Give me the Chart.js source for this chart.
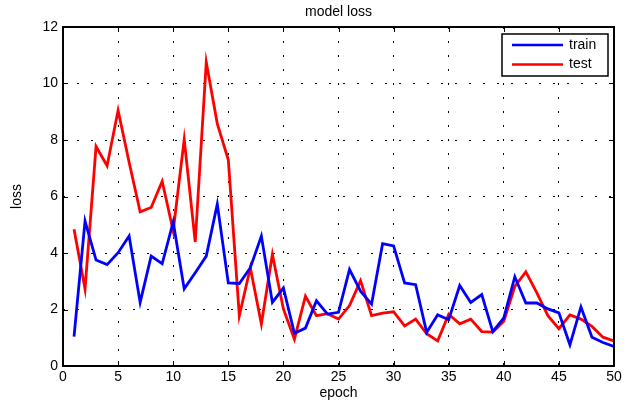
<!DOCTYPE html>
<html>
<head>
<meta charset="utf-8">
<title>model loss</title>
<script src="https://cdn.jsdelivr.net/npm/chart.js@4.4.0/dist/chart.umd.min.js"></script>
<style>
  html, body { margin: 0; padding: 0; background: #fff; }
</style>
</head>
<body>
<canvas id="lossChart" width="628" height="402"></canvas>
<script>
const epochs = [1, 2, 3, 4, 5, 6, 7, 8, 9, 10, 11, 12, 13, 14, 15, 16, 17, 18, 19, 20,
  21, 22, 23, 24, 25, 26, 27, 28, 29, 30, 31, 32, 33, 34, 35, 36, 37, 38, 39, 40,
  41, 42, 43, 44, 45, 46, 47, 48, 49, 50];

const trainLoss = [1.04, 5.13, 3.75, 3.59, 4.01, 4.60, 2.25, 3.89, 3.62, 5.10,
  2.73, 3.30, 3.89, 5.73, 2.94, 2.92, 3.48, 4.60, 2.25, 2.76,
  1.16, 1.34, 2.31, 1.84, 1.90, 3.42, 2.65, 2.19, 4.33, 4.25,
  2.94, 2.88, 1.19, 1.81, 1.64, 2.85, 2.25, 2.53, 1.22, 1.70,
  3.16, 2.23, 2.23, 2.02, 1.88, 0.75, 2.09, 1.02, 0.83, 0.69];

const testLoss = [4.84, 2.73, 7.77, 7.09, 9.05, 7.21, 5.46, 5.61, 6.54, 4.78,
  8.02, 4.39, 10.75, 8.58, 7.30, 1.78, 3.48, 1.49, 3.95, 2.02,
  0.95, 2.47, 1.78, 1.85, 1.66, 2.14, 3.02, 1.78, 1.87, 1.92,
  1.42, 1.66, 1.14, 0.89, 1.83, 1.49, 1.66, 1.22, 1.20, 1.58,
  2.82, 3.33, 2.59, 1.78, 1.32, 1.81, 1.66, 1.40, 1.02, 0.89];

const xTicks = [0, 5, 10, 15, 20, 25, 30, 35, 40, 45, 50];
const yTicks = [0, 2, 4, 6, 8, 10, 12];

const FONT = '"Liberation Sans", Arial, Helvetica, sans-serif';

// matlab style box, inward ticks, title and legend
const matlabAxes = {
  id: "matlabAxes",
  afterDraw(chart) {
    const { ctx, chartArea: a, scales: { x, y } } = chart;
    ctx.save();
    ctx.strokeStyle = "#000";
    ctx.lineWidth = 1;
    ctx.beginPath();
    xTicks.forEach(v => {
      const px = Math.round(x.getPixelForValue(v)) + 0.5;
      ctx.moveTo(px, a.bottom); ctx.lineTo(px, a.bottom - 5);
      ctx.moveTo(px, a.top); ctx.lineTo(px, a.top + 5);
    });
    yTicks.forEach(v => {
      const py = Math.round(y.getPixelForValue(v)) + 0.5;
      ctx.moveTo(a.left, py); ctx.lineTo(a.left + 5, py);
      ctx.moveTo(a.right, py); ctx.lineTo(a.right - 5, py);
    });
    ctx.stroke();
    ctx.lineWidth = 2;
    ctx.strokeRect(Math.round(a.left), Math.round(a.top),
      Math.round(a.right - a.left), Math.round(a.bottom - a.top));

    // title
    ctx.fillStyle = "#000";
    ctx.font = "14px " + FONT;
    ctx.textAlign = "center";
    ctx.textBaseline = "middle";
    ctx.fillText("model loss", (a.left + a.right) / 2, 12);

    // legend
    const bx = a.right - 112, by = a.top + 7, bw = 106, bh = 42;
    ctx.fillStyle = "#fff";
    ctx.fillRect(bx, by, bw, bh);
    ctx.lineWidth = 1.5;
    ctx.strokeStyle = "#000";
    ctx.strokeRect(bx, by, bw, bh);
    chart.data.datasets.forEach((ds, i) => {
      const ly = by + 11 + i * 19.5;
      ctx.strokeStyle = ds.borderColor;
      ctx.lineWidth = 2.5;
      ctx.beginPath();
      ctx.moveTo(bx + 10, ly); ctx.lineTo(bx + 61, ly);
      ctx.stroke();
      ctx.fillStyle = "#000";
      ctx.textAlign = "left";
      ctx.fillText(ds.label, bx + 67, ly);
    });
    ctx.restore();
  }
};

new Chart(document.getElementById("lossChart"), {
  type: "line",
  data: {
    datasets: [{
      label: "train",
      data: epochs.map((e, i) => ({ x: e, y: trainLoss[i] })),
      borderColor: "#0000ff",
      borderWidth: 2.8,
      pointRadius: 0,
      fill: false,
      tension: 0
    }, {
      label: "test",
      data: epochs.map((e, i) => ({ x: e, y: testLoss[i] })),
      borderColor: "#ff0000",
      borderWidth: 2.8,
      pointRadius: 0,
      fill: false,
      tension: 0
    }]
  },
  options: {
    responsive: false,
    devicePixelRatio: 1,
    animation: false,
    layout: { padding: { top: 27, right: 14, bottom: 0, left: 0 } },
    plugins: {
      legend: { display: false },
      title: { display: false },
      tooltip: { enabled: false }
    },
    scales: {
      x: {
        type: "linear",
        min: 0,
        max: 50,
        afterFit: s => { s.height = 36; },
        afterBuildTicks: s => { s.ticks = xTicks.map(v => ({ value: v })); },
        ticks: { color: "#000", padding: 3, font: { size: 14, family: FONT } },
        grid: { color: "#000", lineWidth: 1, drawTicks: false },
        border: { display: false, dash: [2, 12] },
        title: { display: true, text: "epoch", color: "#000", padding: { top: 0, bottom: 0 },
          font: { size: 14, family: FONT } }
      },
      y: {
        min: 0,
        max: 12,
        afterFit: s => { s.width = 63; },
        afterBuildTicks: s => { s.ticks = yTicks.map(v => ({ value: v })); },
        ticks: { color: "#000", padding: 5, font: { size: 14, family: FONT } },
        grid: { color: "#000", lineWidth: 1, drawTicks: false },
        border: { display: false, dash: [2, 12] },
        title: { display: true, text: "loss", color: "#000", padding: { top: 9, bottom: 0 },
          font: { size: 14, family: FONT } }
      }
    }
  },
  plugins: [matlabAxes]
});
</script>
</body>
</html>
